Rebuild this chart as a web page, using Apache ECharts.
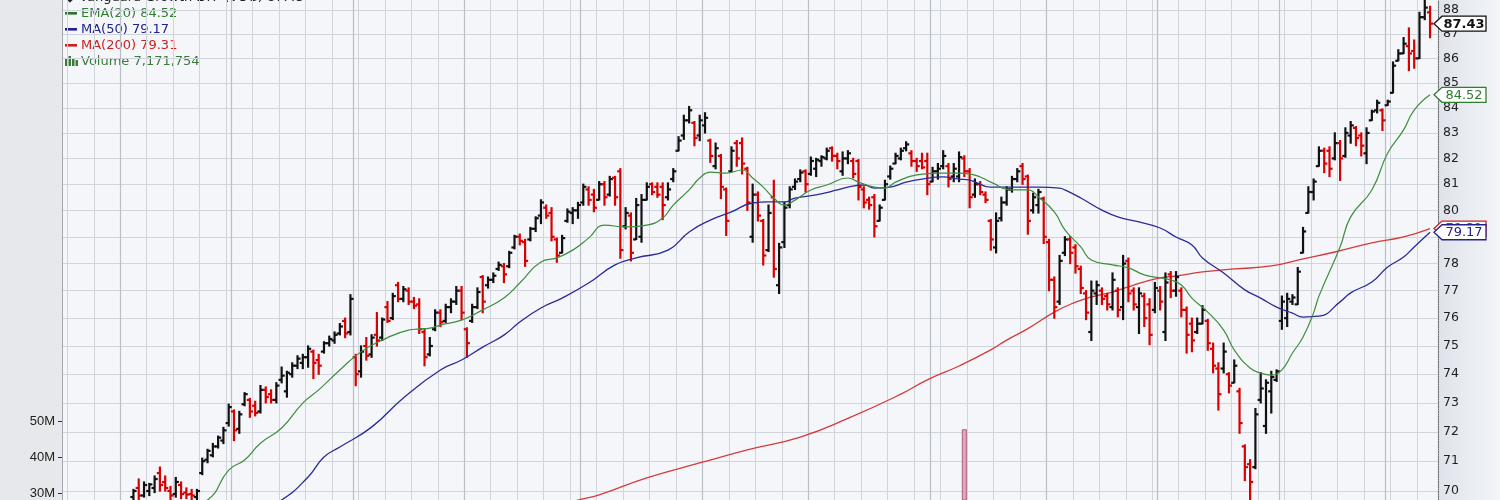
<!DOCTYPE html>
<html><head><meta charset="utf-8">
<script src="https://cdn.jsdelivr.net/npm/echarts@6/dist/echarts.min.js"></script>
<style>
html,body{margin:0;padding:0;}
#c{width:1500px;height:500px;background:linear-gradient(to right,#e6e8ec 0,#e6e8ec 62px,#f4f6f9 62px,#f4f6f9 1438px,#dfe3ea 1438px,#f3f5f8 1500px);}
</style></head><body><div id="c"></div>
<script>
// ---- data ----
const startDate = '2018-03-16';
const categoryCount = 260;
const firstBar = 13;
const priceTicks = [70,71,72,73,74,75,76,77,78,79,80,81,82,83,84,85,86,87,88];
const volumeTicks = [30e6, 40e6, 50e6];
// [open, high, low, close]
const ohlc = [
[69.8,70.05,69.6,70.0],[70.1,70.4,69.7,69.85],[69.85,70.3,69.8,70.2],[70.0,70.25,69.85,70.22],[70.1,70.5,69.95,70.4],
[70.6,70.8,70.0,70.2],[70.3,70.5,70.0,70.1],[70.0,70.15,69.7,69.85],[69.9,70.45,69.8,70.3],[70.2,70.3,69.75,69.9],
[69.95,70.1,69.75,69.88],[69.9,70.05,69.7,69.85],[69.8,70.05,69.7,70.0],[70.6,71.1,70.55,71.0],[71.05,71.4,70.95,71.35],
[71.2,71.6,71.15,71.5],[71.5,71.85,71.45,71.8],[71.7,72.15,71.6,72.05],[72.3,72.95,72.2,72.85],[72.7,72.75,71.7,72.05],
[72.1,72.7,71.95,72.6],[72.95,73.35,72.9,73.3],[73.1,73.15,72.5,72.7],[72.9,73.05,72.55,72.65],[72.7,73.6,72.65,73.45],
[73.45,73.55,73.0,73.2],[73.3,73.45,73.0,73.1],[73.1,73.7,73.0,73.6],[73.8,74.25,73.7,73.95],[73.4,74.1,73.2,74.05],
[74.0,74.4,73.9,74.3],[74.3,74.65,74.2,74.55],[74.4,74.7,74.2,74.6],[74.6,75.0,74.25,74.9],[74.8,74.85,73.85,74.4],
[74.5,74.7,74.0,74.3],[74.8,75.15,74.75,75.1],[75.1,75.35,75.0,75.25],[75.2,75.5,75.1,75.4],[75.45,75.8,75.4,75.7],
[75.9,76.0,75.3,75.45],[75.5,76.85,75.4,76.7],[74.6,74.7,73.6,74.0],[74.1,75.0,73.9,74.8],[75.0,75.3,74.5,74.65],
[74.7,75.4,74.6,75.3],[75.4,76.2,75.0,75.2],[75.3,76.0,75.2,75.95],[76.4,76.6,75.85,75.9],[76.0,76.9,75.95,76.8],
[77.2,77.3,76.6,76.7],[76.7,77.15,76.6,77.05],[77.0,77.1,76.5,76.6],[76.6,76.75,76.35,76.45],[76.5,76.7,75.45,75.6],
[75.5,75.6,74.3,74.6],[74.7,75.3,74.65,75.0],[75.6,76.3,75.55,76.2],[76.2,76.3,75.7,75.85],[75.9,76.5,75.85,76.4],
[76.4,76.7,76.2,76.6],[76.6,77.15,76.5,77.0],[77.0,77.15,75.95,76.2],[75.6,75.65,74.6,75.1],[75.9,76.5,75.85,76.4],
[76.4,77.1,76.35,76.95],[77.5,77.55,76.2,76.6],[77.2,77.5,77.1,77.4],[77.4,77.65,77.3,77.55],[77.8,78.05,77.75,77.95],
[77.9,78.0,77.3,77.6],[77.9,78.45,77.85,78.4],[78.6,79.05,78.55,79.0],[79.0,79.1,78.7,78.85],[78.8,78.9,77.9,78.1],
[78.9,79.35,78.85,79.3],[79.3,79.75,79.2,79.7],[79.8,80.4,79.5,80.3],[80.1,80.2,79.7,79.8],[79.9,80.1,78.85,79.0],
[78.9,78.95,78.05,78.3],[78.4,79.05,78.4,78.95],[79.6,80.05,79.55,79.95],[79.9,80.1,79.5,80.0],[80.0,80.3,79.7,80.2],
[80.3,81.0,80.2,80.9],[80.8,80.9,80.2,80.4],[80.6,80.8,79.95,80.1],[80.4,81.1,80.4,81.0],[81.0,81.1,80.2,80.5],
[80.6,81.3,80.55,81.2],[81.25,81.3,80.2,80.5],[81.5,81.6,78.2,78.5],[79.4,80.1,79.3,79.9],[79.8,79.9,78.1,78.4],
[78.9,80.45,78.9,80.2],[79.0,80.6,78.8,80.4],[80.4,81.05,80.4,80.9],[81.0,81.05,80.6,80.7],[80.9,81.05,80.5,80.6],
[80.9,81.05,79.65,80.2],[80.5,81.05,80.4,80.8],[81.2,81.6,81.1,81.5],[82.3,82.85,82.3,82.7],[82.9,83.7,82.75,83.5],
[83.5,84.05,83.4,83.9],[83.4,83.45,82.5,82.8],[82.9,83.7,82.7,83.5],[83.3,83.8,83.0,83.6],[82.7,82.75,81.85,82.1],
[81.7,82.6,81.6,82.4],[82.1,82.15,80.45,80.9],[80.8,80.85,79.05,79.6],[81.5,82.45,81.5,82.3],[82.6,82.7,81.7,82.0],
[82.6,82.8,81.4,81.8],[81.6,81.65,80.0,80.3],[79.0,81.0,78.8,80.6],[80.6,80.7,79.6,79.8],[79.6,79.65,77.95,78.3],
[78.5,80.2,78.45,79.9],[80.5,81.15,77.5,77.8],[77.2,78.75,76.9,78.6],[78.8,80.3,78.6,80.1],[80.2,80.9,80.1,80.8],
[80.9,81.2,80.8,81.1],[81.2,81.55,81.1,81.45],[81.5,81.55,80.7,81.0],[81.4,82.05,81.35,81.9],[81.6,82.0,81.3,81.95],
[81.9,82.1,81.7,82.05],[82.0,82.4,81.95,82.3],[82.4,82.45,81.9,82.1],[82.1,82.2,81.6,81.9],[81.5,82.25,81.35,82.0],
[82.0,82.3,81.8,82.2],[81.9,82.0,81.25,81.4],[81.9,81.95,80.4,80.9],[80.8,80.9,80.1,80.3],[80.4,80.5,80.05,80.2],
[80.5,80.6,79.0,79.4],[79.6,80.2,79.6,80.1],[80.4,81.15,80.4,81.0],[81.3,81.7,81.2,81.6],[81.8,82.2,81.8,82.1],
[82.0,82.4,81.95,82.3],[82.4,82.65,82.3,82.55],[82.2,82.3,81.7,81.9],[81.9,82.0,81.5,81.7],[81.9,82.2,81.6,81.65],
[81.9,82.2,80.6,81.0],[81.1,81.65,81.1,81.5],[81.5,81.8,81.2,81.6],[81.7,82.3,81.6,82.1],[81.7,81.8,80.9,81.2],
[81.3,81.8,81.1,81.6],[81.3,82.25,81.1,82.05],[82.0,82.1,81.3,81.5],[81.5,81.6,80.1,80.5],[80.6,81.2,80.5,81.0],
[81.0,81.1,80.6,80.7],[80.6,80.7,80.3,80.4],[79.6,79.65,78.5,78.9],[78.6,79.9,78.4,79.6],[79.7,80.5,79.6,80.3],
[80.3,80.9,80.2,80.8],[80.8,81.3,80.7,81.2],[81.2,81.6,81.1,81.5],[81.7,81.8,81.0,81.2],[81.3,81.35,79.1,79.6],
[80.0,80.65,79.9,80.5],[80.2,80.8,79.9,80.7],[80.45,80.5,78.75,79.0],[78.8,78.9,77.0,77.4],[77.4,77.5,76.0,76.4],
[76.6,78.3,76.5,78.1],[78.4,79.0,78.3,78.9],[78.9,79.0,78.0,78.4],[78.6,78.7,77.65,77.9],[77.8,77.9,76.9,77.1],
[76.9,77.0,75.95,76.2],[75.5,77.35,75.2,77.0],[76.9,77.35,76.5,77.2],[77.0,77.1,76.5,76.7],[76.8,76.9,76.3,76.5],
[76.4,77.65,76.3,77.4],[77.0,77.1,76.05,76.3],[76.4,78.3,75.95,78.0],[78.1,78.2,76.6,76.9],[77.0,77.1,76.3,76.5],
[76.4,77.1,75.45,76.9],[76.8,76.9,75.7,76.0],[76.5,76.7,75.05,75.4],[76.3,77.3,76.2,77.1],[77.0,77.15,76.3,76.6],
[75.5,77.65,75.2,77.3],[77.6,77.7,76.75,77.0],[77.0,77.7,76.8,77.5],[77.0,77.1,76.05,76.3],[76.3,76.4,74.75,75.4],
[75.8,76.0,74.8,75.2],[75.5,76.0,75.45,75.8],[75.8,76.45,75.8,76.3],[75.9,75.95,74.85,75.1],[74.9,75.1,74.05,74.3],
[74.2,74.4,72.75,73.3],[74.2,75.1,74.05,74.8],[74.0,74.05,73.35,73.6],[73.7,74.5,73.7,74.3],[73.4,73.5,71.95,72.3],
[71.5,71.55,70.35,70.8],[70.9,71.05,69.5,70.3],[70.8,72.8,70.75,72.6],[73.1,74.05,73.0,73.5],[72.2,73.8,71.95,73.7],
[73.4,74.1,72.65,73.9],[73.8,74.15,73.75,74.1],[75.9,76.8,75.6,76.6],[76.0,76.9,75.7,76.7],[76.6,76.85,76.5,76.75],
[76.5,77.85,76.5,77.7],[78.4,79.35,78.4,79.2],[79.9,80.9,79.9,80.7],[80.7,81.2,80.4,81.1],[81.7,82.45,81.7,82.3],
[82.3,82.4,81.45,81.8],[82.3,82.45,81.3,81.6],[82.0,83.0,81.95,82.6],[82.6,82.7,81.15,82.0],[82.1,83.2,82.05,83.0],
[82.9,83.45,82.6,83.3],[83.2,83.25,82.5,82.8],[82.9,83.0,82.1,82.5],[82.2,83.2,81.8,83.0],[83.5,83.9,83.5,83.85],
[83.9,84.3,83.8,84.2],[83.9,83.95,83.1,83.5],[84.1,84.3,84.1,84.25],[84.6,85.85,84.6,85.7],[85.9,86.35,85.9,86.2],
[86.2,86.85,86.2,86.6],[86.5,87.25,85.5,86.2],[86.3,86.75,85.6,86.0],[86.0,87.9,86.0,87.7],[87.7,88.5,87.6,88.1],
[87.9,88.15,86.85,87.43]
];
// [bar index, value]
const ema20 = [[22,69.45],[27,69.70],[31,70.70],[34,71.04],[37,71.61],[41,72.13],[45,72.99],[48,73.45],[52,74.15],[56,74.79],
[60,75.21],[65,75.57],[67,75.61],[69,75.64],[71,75.75],[75,75.93],[79,76.30],[83,76.73],[86,77.28],[90,78.06],[93,78.21],
[96,78.50],[99,78.95],[102,79.44],[106,79.37],[110,79.44],[113,79.71],[115,80.20],[118,80.78],[120,81.24],[122,81.47],
[125,81.43],[128,81.55],[130,81.24],[132,80.89],[134,80.47],[136,80.20],[138,80.39],[141,80.78],[144,80.97],[148,81.24],
[150,81.08],[153,80.89],[155,80.85],[157,81.08],[161,81.36],[165,81.43],[169,81.43],[171,81.40],[173,81.28],[175,81.08],
[179,80.78],[182,80.78],[184,80.51],[187,79.94],[189,79.26],[192,78.62],[194,78.13],[198,77.95],[201,77.84],[204,77.58],
[207,77.47],[209,77.39],[211,77.21],[213,76.73],[216,76.22],[219,75.57],[221,74.86],[224,74.22],[226,74.04],[228,73.97],
[230,74.15],[232,74.75],[234,75.32],[236,76.20],[237,76.80],[241,78.62],[243,79.75],[247,80.78],[250,82.21],[253,83.12],
[255,83.91],[258,84.52]];
const ma50 = [[37,69.45],[41,69.70],[46,70.47],[49,71.14],[52,71.48],[58,72.16],[64,73.17],[71,74.15],[75,74.50],[79,74.96],
[83,75.39],[86,75.86],[90,76.37],[94,76.73],[99,77.28],[104,77.95],[108,78.21],[114,78.50],[118,79.18],[122,79.63],
[126,79.94],[130,80.28],[133,80.32],[136,80.32],[138,80.47],[142,80.59],[146,80.78],[148,80.89],[151,80.97],[153,80.85],
[156,80.89],[159,81.08],[162,81.20],[166,81.28],[169,81.20],[171,81.16],[175,80.89],[179,80.89],[184,80.89],[188,80.85],
[189,80.78],[192,80.47],[196,80.01],[199,79.75],[203,79.56],[207,79.33],[210,78.99],[213,78.69],[215,78.21],[219,77.65],
[223,77.03],[226,76.73],[229,76.40],[232,76.18],[234,76.04],[237,76.07],[241,76.59],[243,76.92],[247,77.32],[250,77.87],
[253,78.24],[255,78.62],[258,79.17]];
const ma200 = [[92,69.45],[97,69.70],[101,69.87],[110,70.44],[120,70.94],[129,71.38],[139,71.82],[148,72.46],[158,73.30],
[163,73.80],[169,74.29],[175,74.86],[178,75.21],[182,75.62],[187,76.22],[191,76.58],[194,76.77],[198,76.95],[201,77.14],
[204,77.32],[207,77.47],[210,77.54],[215,77.69],[221,77.80],[228,77.91],[234,78.17],[240,78.43],[247,78.77],[253,79.00],
[258,79.31]];
// visible volume bars [bar index, shares]
const volumes = [[170, 47.9e6]];
const lastClose = 87.43, lastEma = 84.52, lastMa50 = 79.17, lastMa200 = 79.31, lastVolume = 7171754;

// ---- derived ----
const dates = [];
{ let t = Date.parse(startDate + 'T00:00:00Z');
  while (dates.length < categoryCount) { const d = new Date(t); const wd = d.getUTCDay();
    if (wd !== 0 && wd !== 6) dates.push(d.toISOString().slice(0, 10)); t += 86400000; } }
const barData = ohlc.map((b, j) => [firstBar + j, b[0], b[1], b[2], b[3], (j > 0 && b[3] < ohlc[j - 1][3]) ? 1 : 0]);
const volData = dates.map(() => null);
volumes.forEach(v => { volData[v[0]] = v[1]; });
const lastIdx = firstBar + ohlc.length - 1;
const tagData = [[lastIdx, lastMa200], [lastIdx, lastMa50], [lastIdx, lastEma], [lastIdx, lastClose]];
const tagStyles = [
  {border:'#cc2020', color:'#cc2020', weight:'normal'},
  {border:'#22228c', color:'#22228c', weight:'normal'},
  {border:'#2f7d2f', color:'#2f7d2f', weight:'normal'},
  {border:'#111', color:'#111', weight:'bold'}];

const chart = echarts.init(document.getElementById('c'), null, {renderer:'canvas'});
const FONT = 'DejaVu Sans, Verdana, sans-serif';
chart.setOption({
  animation: false,
  backgroundColor: 'transparent',
  grid: {left: 62, right: 62, top: 0, bottom: 0, show: false},
  graphic: [
    {type:'text', left: 65, top: -9, style:{text:'\u25C6 Vanguard Growth ETF (VUG) 87.43', font:'13px ' + FONT, fill:'#222'}},
    {type:'rect', shape:{x:65, y:12, width:12, height:2.6}, style:{fill:'#2f6f2f'}},
    {type:'text', x: 81, y: 13.5, style:{text:'EMA(20) ' + lastEma.toFixed(2), font:'13px ' + FONT, fill:'#2f7d2f', verticalAlign:'middle'}},
    {type:'rect', shape:{x:65, y:28, width:12, height:2.6}, style:{fill:'#22228c'}},
    {type:'text', x: 81, y: 29.5, style:{text:'MA(50) ' + lastMa50.toFixed(2), font:'13px ' + FONT, fill:'#22228c', verticalAlign:'middle'}},
    {type:'rect', shape:{x:65, y:44, width:12, height:2.6}, style:{fill:'#cc2020'}},
    {type:'text', x: 81, y: 45.5, style:{text:'MA(200) ' + lastMa200.toFixed(2), font:'13px ' + FONT, fill:'#cc2020', verticalAlign:'middle'}},
    {type:'rect', shape:{x:65, y:59, width:2.5, height:7}, style:{fill:'#3b7a3b'}},
    {type:'rect', shape:{x:68.5, y:56, width:2.5, height:10}, style:{fill:'#3b7a3b'}},
    {type:'rect', shape:{x:72, y:58, width:2.5, height:8}, style:{fill:'#3b7a3b'}},
    {type:'rect', shape:{x:75.5, y:60, width:2.5, height:6}, style:{fill:'#3b7a3b'}},
    {type:'text', x: 81, y: 61.5, style:{text:'Volume ' + lastVolume.toLocaleString('en-US'), font:'13px ' + FONT, fill:'#3b7a3b', verticalAlign:'middle'}}
  ],
  xAxis: [
    {type:'category', data: dates, boundaryGap: true, axisLine:{show:false}, axisTick:{show:false}, axisLabel:{show:false},
     splitLine:{show:true, interval:(i, v) => new Date(v + 'T00:00:00Z').getUTCDay() === 1, lineStyle:{color:'#d0d4dc', width:1}}},
    {type:'category', data: dates, boundaryGap: true, position:'top', axisLine:{show:false}, axisTick:{show:false}, axisLabel:{show:false},
     splitLine:{show:true, interval:(i, v) => i > 0 && v.slice(5, 7) !== dates[i - 1].slice(5, 7), lineStyle:{color:'#b9bec7', width:1.2}}}
  ],
  yAxis: [
    {type:'log', logBase: 10, position:'right', min: 69.701, max: 88.42, scale: true,
     axisLine:{show:true, lineStyle:{color:'#666', width:1, type:[1, 1.5]}},
     axisTick:{show:false, customValues: priceTicks},
     axisLabel:{customValues: priceTicks, margin: 5, color:'#222', fontFamily: FONT, fontSize: 12.5, formatter: v => String(Math.round(v))},
     splitLine:{show:true, lineStyle:{color:'#d0d4dc', width:1}}},
    {type:'value', position:'left', min: 28.13e6, max: 167.8e6,
     axisLine:{show:true, lineStyle:{color:'#a2a7b0', width:1}},
     axisTick:{show:true, customValues: volumeTicks, length: 4, lineStyle:{color:'#333'}},
     axisLabel:{customValues: volumeTicks, margin: 7, color:'#222', fontFamily:'Liberation Sans, Arial, sans-serif', fontSize: 13, formatter: v => Math.round(v / 1e6) + 'M'},
     splitLine:{show:false}}
  ],
  series: [
    {name:'Volume', type:'bar', xAxisIndex:0, yAxisIndex:1, data: volData, barWidth: 5, z: 1, silent: true,
     itemStyle:{color:'#e4a6bf', borderColor:'#a8607e', borderWidth: 1}},
    {name:'MA(200)', type:'line', yAxisIndex:0, data: ma200, showSymbol:false, smooth:0.5, z: 3, silent:true,
     lineStyle:{color:'#d43a3a', width:1.3}},
    {name:'OHLC', type:'custom', yAxisIndex:0, data: barData, clip: true, z: 4, silent: true,
     encode:{x:0, y:[1,2,3,4]},
     renderItem: function (params, api) {
       const i = api.value(0);
       const h = api.coord([i, api.value(2)]), l = api.coord([i, api.value(3)]);
       const o = api.coord([i, api.value(1)]), c = api.coord([i, api.value(4)]);
       const col = api.value(5) ? '#d80000' : '#111111';
       const x = h[0];
       const st = {stroke: col, lineWidth: 2.2};
       return {type:'group', children:[
         {type:'line', shape:{x1:x, y1:h[1] - 0.6, x2:x, y2:l[1] + 0.6}, style: st},
         {type:'line', shape:{x1:x - 3.1, y1:o[1], x2:x, y2:o[1]}, style: st},
         {type:'line', shape:{x1:x, y1:c[1], x2:x + 3.1, y2:c[1]}, style: st}
       ]};
     }},
    {name:'MA(50)', type:'line', yAxisIndex:0, data: ma50, showSymbol:false, smooth:0.5, z: 5, silent:true,
     lineStyle:{color:'#2a2a98', width:1.3}},
    {name:'EMA(20)', type:'line', yAxisIndex:0, data: ema20, showSymbol:false, smooth:0.5, z: 5, silent:true,
     lineStyle:{color:'#3f8d3f', width:1.2}},
    {name:'Tags', type:'custom', yAxisIndex:0, data: tagData, clip: false, z: 10, silent: true,
     encode:{x:0, y:1},
     renderItem: function (params, api) {
       const cs = params.coordSys; const ax = cs.x + cs.width;
       const y = api.coord([api.value(0), api.value(1)])[1];
       const s = tagStyles[params.dataIndex];
       return {type:'group', children:[
         {type:'polygon', shape:{points:[[ax - 4, y], [ax + 4, y - 7.5], [ax + 48, y - 7.5], [ax + 48, y + 7.5], [ax + 4, y + 7.5]]},
          style:{fill:'#ffffff', stroke: s.border, lineWidth: 1.3}},
         {type:'text', style:{text: api.value(1).toFixed(2), x: ax + 26, y: y + 0.5, align:'center', verticalAlign:'middle',
          fill: s.color, font: s.weight + ' 13px ' + FONT}}
       ]};
     }}
  ]
});
</script></body></html>
